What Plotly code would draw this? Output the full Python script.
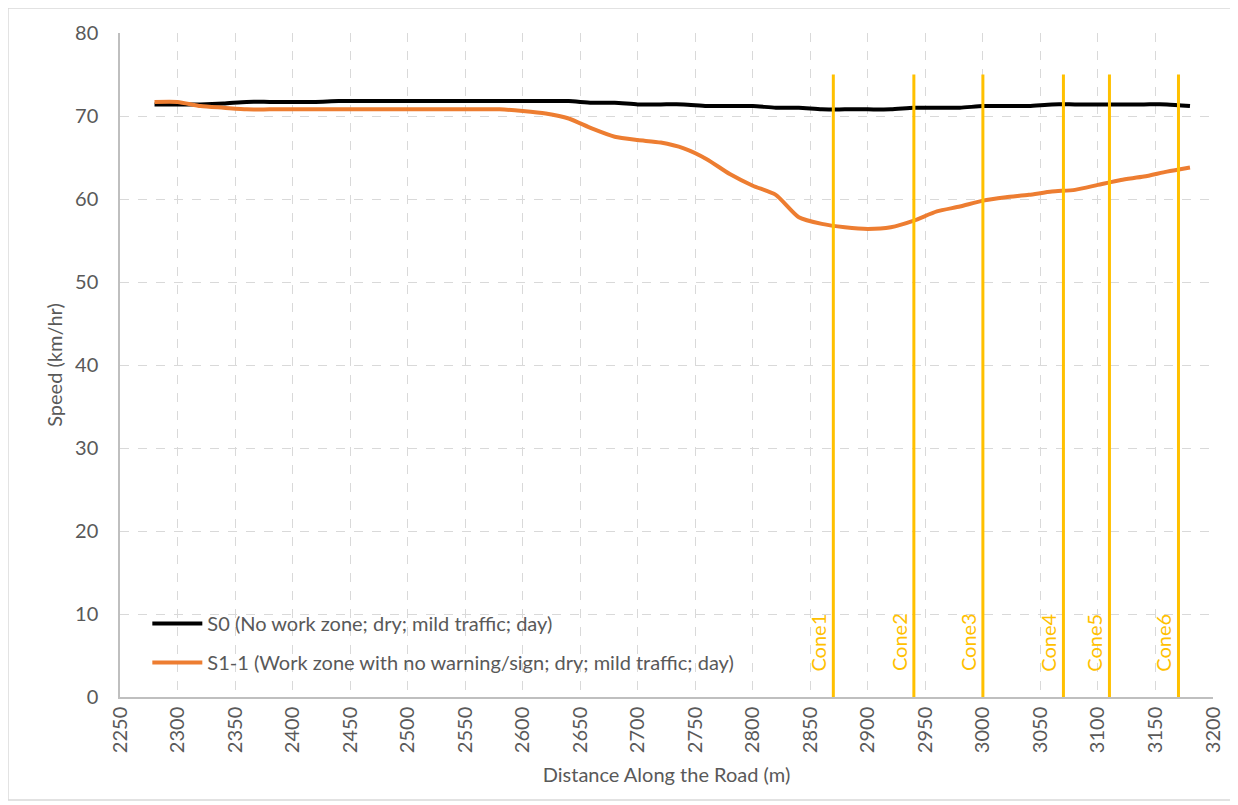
import plotly.graph_objects as go

distance = [2280, 2300, 2320, 2340, 2360, 2380, 2400, 2420, 2440, 2460, 2480, 2500,
            2520, 2540, 2560, 2580, 2600, 2620, 2640, 2660, 2680, 2700, 2720, 2740,
            2760, 2780, 2800, 2820, 2840, 2860, 2880, 2900, 2920, 2940, 2960, 2980,
            3000, 3020, 3040, 3060, 3080, 3100, 3120, 3140, 3160, 3180]

s0_speed = [71.4, 71.4, 71.4, 71.5, 71.7, 71.7, 71.7, 71.7, 71.8, 71.8, 71.8, 71.8,
            71.8, 71.8, 71.8, 71.8, 71.8, 71.8, 71.8, 71.6, 71.6, 71.4, 71.4, 71.4,
            71.2, 71.2, 71.2, 71.0, 71.0, 70.8, 70.8, 70.8, 70.8, 71.0, 71.0, 71.0,
            71.2, 71.2, 71.2, 71.4, 71.4, 71.4, 71.4, 71.4, 71.4, 71.2]

s1_speed = [71.7, 71.7, 71.2, 71.0, 70.8, 70.8, 70.8, 70.8, 70.8, 70.8, 70.8, 70.8,
            70.8, 70.8, 70.8, 70.8, 70.6, 70.3, 69.7, 68.5, 67.5, 67.1, 66.8, 66.1,
            64.8, 63.0, 61.6, 60.5, 57.8, 57.0, 56.6, 56.4, 56.6, 57.4, 58.5, 59.1,
            59.8, 60.2, 60.5, 60.9, 61.1, 61.7, 62.3, 62.7, 63.3, 63.8]

cone_names = ["Cone1", "Cone2", "Cone3", "Cone4", "Cone5", "Cone6"]
cone_positions = [2870, 2940, 3000, 3070, 3110, 3170]
cone_top = 75
cone_label_y = 6.6

x_ticks = list(range(2250, 3201, 50))
y_ticks = list(range(0, 81, 10))

FONT = "Lato, 'Open Sans', sans-serif"
GREY = "#595959"
CONE_COLOR = "#FFC000"
FS = 20

fig = go.Figure()

fig.add_trace(go.Scatter(
    x=distance, y=s0_speed, mode="lines",
    name="S0 (No work zone; dry; mild traffic; day)",
    line=dict(color="#000000", width=4, shape="spline", smoothing=0.6),
    legendgroup="a",
))
fig.add_trace(go.Scatter(
    x=distance, y=s1_speed, mode="lines",
    name="S1-1 (Work zone with no warning/sign; dry; mild traffic; day)",
    line=dict(color="#ED7D31", width=4, shape="spline", smoothing=0.6),
    legendgroup="b",
))

for name, pos in zip(cone_names, cone_positions):
    fig.add_trace(go.Scatter(
        x=[pos, pos], y=[0, cone_top], mode="lines",
        line=dict(color=CONE_COLOR, width=3),
        showlegend=False, hoverinfo="skip",
    ))
    fig.add_annotation(
        x=pos, y=cone_label_y, xref="x", yref="y",
        text=name, textangle=-90, showarrow=False,
        xanchor="right", yanchor="middle", xshift=-1,
        font=dict(family=FONT, size=FS, color=CONE_COLOR),
    )

# chart-area border
fig.add_shape(type="rect", xref="paper", yref="paper",
              x0=-0.1025, x1=1.0201, y0=-0.155, y1=1.0377,
              line=dict(color="#D9D9D9", width=1.5), layer="below")

fig.update_layout(
    width=1230, height=797,
    margin=dict(l=112, r=25, t=25, b=108),
    paper_bgcolor="white", plot_bgcolor="white",
    font=dict(family=FONT, size=FS, color=GREY),
    showlegend=True,
    legend=dict(
        x=0.025, y=0.14, xanchor="left", yanchor="top",
        bgcolor="rgba(0,0,0,0)", font=dict(family=FONT, size=FS, color=GREY),
        tracegroupgap=10, itemwidth=50,
    ),
    xaxis=dict(
        range=[2250, 3200], tickvals=x_ticks, ticktext=[str(v) for v in x_ticks],
        tickangle=-90, showgrid=True, gridcolor="#D9D9D9", griddash="dash",
        gridwidth=1, showline=True, linecolor="#BFBFBF", linewidth=1.5,
        ticks="", zeroline=False, tickfont=dict(size=FS, color=GREY),
        title=dict(text="Distance Along the Road (m)", standoff=16,
                   font=dict(size=FS, color=GREY)),
    ),
    yaxis=dict(
        range=[0, 80], tickvals=y_ticks, showgrid=True, gridcolor="#D9D9D9",
        griddash="dash", gridwidth=1, showline=True, linecolor="#BFBFBF",
        linewidth=1.5, ticks="", zeroline=False, ticklabelstandoff=16,
        tickfont=dict(size=FS, color=GREY),
        title=dict(text="Speed (km/hr)", standoff=7,
                   font=dict(size=FS, color=GREY)),
    ),
)

fig.write_html("out.html")
